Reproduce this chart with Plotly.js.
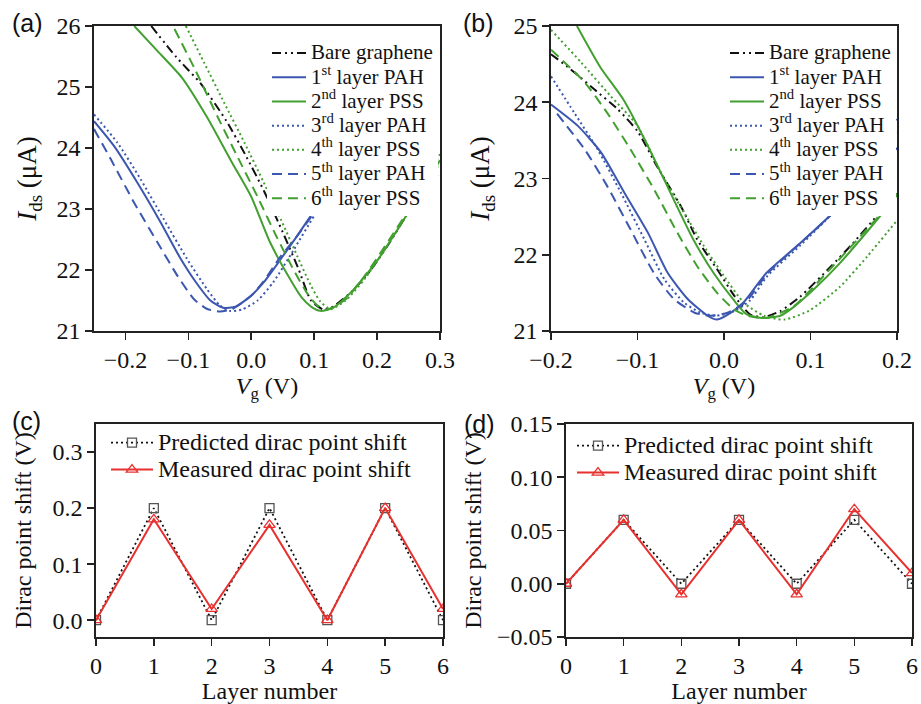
<!DOCTYPE html>
<html>
<head>
<meta charset="utf-8">
<script src="https://cdn.plot.ly/plotly-3.0.1.min.js"></script>
<style>html,body{margin:0;padding:0;background:#fff;}#chart{width:921px;height:704px;}</style>
</head>
<body>
<div id="chart"></div>
<script>
// ---------- Panel (a) data ----------
const vgA_bare = [-0.159, -0.12, -0.08, -0.04, -0.01, 0.02, 0.05, 0.075, 0.095, 0.115, 0.13, 0.16, 0.19, 0.22, 0.25, 0.275, 0.3];
const idsA_bare = [26.0, 25.5, 25.05, 24.45, 23.9, 23.3, 22.62, 22.02, 21.5, 21.35, 21.4, 21.65, 22.0, 22.45, 22.95, 23.3, 23.6];
const vgA_pah1 = [-0.25, -0.218, -0.181, -0.144, -0.112, -0.086, -0.065, -0.045, -0.025, 0.0, 0.02, 0.047, 0.073, 0.1, 0.13, 0.16];
const idsA_pah1 = [24.44, 24.03, 23.43, 22.78, 22.18, 21.77, 21.5, 21.38, 21.4, 21.58, 21.8, 22.18, 22.56, 22.97, 23.4, 23.85];
const vgA_pss2 = [-0.186, -0.15, -0.11, -0.07, -0.03, 0.0, 0.03, 0.06, 0.08, 0.095, 0.11, 0.13, 0.16, 0.2, 0.25, 0.3];
const idsA_pss2 = [26.0, 25.6, 25.15, 24.5, 23.75, 23.2, 22.45, 21.88, 21.55, 21.4, 21.33, 21.38, 21.65, 22.15, 22.95, 23.8];
const vgA_pah3 = [-0.25, -0.213, -0.176, -0.139, -0.102, -0.07, -0.05, -0.035, -0.015, 0.01, 0.035, 0.068, 0.1, 0.13, 0.16];
const idsA_pah3 = [24.55, 24.09, 23.49, 22.83, 22.18, 21.68, 21.42, 21.33, 21.35, 21.5, 21.8, 22.34, 22.89, 23.35, 23.8];
const vgA_pss4 = [-0.104, -0.075, -0.043, -0.011, 0.02, 0.047, 0.073, 0.095, 0.11, 0.126, 0.15, 0.18, 0.21, 0.25, 0.3];
const idsA_pss4 = [26.0, 25.4, 24.74, 24.09, 23.43, 22.83, 22.23, 21.74, 21.48, 21.36, 21.5, 21.85, 22.3, 22.95, 23.9];
const vgA_pah5 = [-0.25, -0.223, -0.186, -0.149, -0.117, -0.091, -0.07, -0.05, -0.03, 0.0, 0.02, 0.045, 0.073, 0.1, 0.13, 0.16];
const idsA_pah5 = [24.31, 23.81, 23.10, 22.45, 21.90, 21.52, 21.36, 21.32, 21.36, 21.58, 21.82, 22.2, 22.56, 22.94, 23.4, 23.85];
const vgA_pss6 = [-0.122, -0.09, -0.053, -0.024, 0.01, 0.04, 0.07, 0.09, 0.105, 0.12, 0.15, 0.18, 0.21, 0.25, 0.3];
const idsA_pss6 = [25.95, 25.3, 24.5, 23.9, 23.2, 22.55, 21.95, 21.6, 21.42, 21.35, 21.52, 21.9, 22.35, 22.98, 23.75];

// ---------- Panel (b) data ----------
const vgB_bare = [-0.2, -0.177, -0.15, -0.123, -0.1, -0.077, -0.05, -0.031, -0.008, 0.012, 0.03, 0.045, 0.065, 0.088, 0.123, 0.149, 0.18, 0.2];
const idsB_bare = [24.63, 24.43, 24.17, 23.91, 23.62, 23.15, 22.64, 22.2, 21.81, 21.46, 21.22, 21.18, 21.26, 21.45, 21.84, 22.15, 22.55, 22.8];
const vgB_pah1 = [-0.2, -0.169, -0.142, -0.115, -0.088, -0.065, -0.042, -0.019, -0.008, 0.008, 0.023, 0.049, 0.088, 0.126, 0.16, 0.2];
const idsB_pah1 = [23.97, 23.69, 23.34, 22.81, 22.29, 21.76, 21.42, 21.20, 21.15, 21.24, 21.38, 21.76, 22.15, 22.55, 22.95, 23.4];
const vgB_pss2 = [-0.17, -0.143, -0.116, -0.089, -0.058, -0.035, -0.012, 0.011, 0.026, 0.045, 0.065, 0.08, 0.107, 0.134, 0.157, 0.18, 0.2];
const idsB_pss2 = [25.0, 24.46, 24.03, 23.45, 22.72, 22.19, 21.76, 21.41, 21.22, 21.17, 21.2, 21.31, 21.58, 21.89, 22.19, 22.5, 22.78];
const vgB_pah3 = [-0.2, -0.173, -0.146, -0.119, -0.092, -0.069, -0.046, -0.027, -0.01, 0.01, 0.03, 0.05, 0.088, 0.126, 0.16, 0.2];
const idsB_pah3 = [24.34, 23.86, 23.38, 22.81, 22.2, 21.68, 21.37, 21.24, 21.2, 21.25, 21.4, 21.72, 22.12, 22.55, 23.0, 23.6];
const vgB_pss4 = [-0.2, -0.165, -0.131, -0.1, -0.073, -0.046, -0.023, 0.0, 0.023, 0.046, 0.07, 0.099, 0.134, 0.165, 0.2];
const idsB_pss4 = [24.95, 24.52, 24.08, 23.69, 23.08, 22.55, 22.11, 21.72, 21.37, 21.2, 21.15, 21.27, 21.58, 21.97, 22.45];
const vgB_pah5 = [-0.193, -0.161, -0.135, -0.108, -0.081, -0.058, -0.034, -0.015, 0.004, 0.025, 0.05, 0.088, 0.126, 0.16, 0.2];
const idsB_pah5 = [23.85, 23.38, 22.90, 22.33, 21.76, 21.42, 21.24, 21.2, 21.24, 21.38, 21.75, 22.15, 22.55, 23.05, 23.8];
const vgB_pss6 = [-0.2, -0.161, -0.135, -0.108, -0.081, -0.054, -0.031, -0.008, 0.012, 0.027, 0.048, 0.08, 0.12, 0.16, 0.19, 0.2];
const idsB_pss6 = [24.69, 24.26, 23.86, 23.38, 22.86, 22.29, 21.85, 21.5, 21.28, 21.2, 21.17, 21.32, 21.78, 22.27, 22.65, 22.8];

// ---------- Panels (c), (d) data ----------
const layers = [0, 1, 2, 3, 4, 5, 6];
const predC = [0, 0.2, 0, 0.2, 0, 0.2, 0];
const measC = [0, 0.18, 0.02, 0.17, 0, 0.2, 0.02];
const predD = [0, 0.06, 0, 0.06, 0, 0.06, 0];
const measD = [0, 0.06, -0.01, 0.06, -0.01, 0.07, 0.01];

const seriesNames = ['Bare graphene', '1<sup>st</sup> layer PAH', '2<sup>nd</sup> layer PSS', '3<sup>rd</sup> layer PAH',
                     '4<sup>th</sup> layer PSS', '5<sup>th</sup> layer PAH', '6<sup>th</sup> layer PSS'];
const shiftNames = ['Predicted dirac point shift', 'Measured dirac point shift'];

const big = (t, px) => '<span style="font-size:' + px + 'px">' + t + '</span>';

const BLUE = '#3b57b0', GREEN = '#42a030', BLACK = '#111111', RED = '#e8312f';
const DASHDOT = '9px,4px,2px,4px,2px,4px', DOT = '2px,3px', DASH = '10px,6px';
const styles = [
  {color: BLACK, dash: DASHDOT}, {color: BLUE, dash: 'solid'}, {color: GREEN, dash: 'solid'},
  {color: BLUE, dash: DOT}, {color: GREEN, dash: DOT}, {color: BLUE, dash: DASH}, {color: GREEN, dash: DASH}
];

const dataA = [[vgA_bare, idsA_bare], [vgA_pah1, idsA_pah1], [vgA_pss2, idsA_pss2], [vgA_pah3, idsA_pah3],
               [vgA_pss4, idsA_pss4], [vgA_pah5, idsA_pah5], [vgA_pss6, idsA_pss6]];
const dataB = [[vgB_bare, idsB_bare], [vgB_pah1, idsB_pah1], [vgB_pss2, idsB_pss2], [vgB_pah3, idsB_pah3],
               [vgB_pss4, idsB_pss4], [vgB_pah5, idsB_pah5], [vgB_pss6, idsB_pss6]];

const traces = [];
dataA.forEach((d, i) => traces.push({
  x: d[0], y: d[1], xaxis: 'x', yaxis: 'y', mode: 'lines', name: big(seriesNames[i], 21), legend: 'legend',
  line: {color: styles[i].color, dash: styles[i].dash, width: 2, shape: 'spline', smoothing: 0.6}
}));
dataB.forEach((d, i) => traces.push({
  x: d[0], y: d[1], xaxis: 'x2', yaxis: 'y2', mode: 'lines', name: big(seriesNames[i], 21), legend: 'legend2',
  line: {color: styles[i].color, dash: styles[i].dash, width: 2, shape: 'spline', smoothing: 0.6}
}));
[[predC, measC, 'x3', 'y3', 'legend3'], [predD, measD, 'x4', 'y4', 'legend4']].forEach(p => {
  traces.push({x: layers, y: p[0], xaxis: p[2], yaxis: p[3], legend: p[4], mode: 'lines+markers',
    name: big(shiftNames[0], 24), line: {color: BLACK, dash: '2px,3px', width: 1.8},
    marker: {symbol: 'square-open', size: 9, color: '#555', line: {width: 1.3}}});
  traces.push({x: layers, y: p[1], xaxis: p[2], yaxis: p[3], legend: p[4], mode: 'lines+markers',
    name: big(shiftNames[1], 24), line: {color: RED, width: 2},
    marker: {symbol: 'triangle-up-open', size: 10, color: RED, line: {width: 1.3}}});
});

const W = 921, H = 704;
const SERIF = 'Liberation Serif, Times New Roman, serif';
const tickFont = {family: SERIF, size: 24, color: '#111'};
const titleFont = {family: SERIF, size: 24, color: '#111'};
const yTitleFontTop = {family: SERIF, size: 27, color: '#111'};
const yTitleFontBot = {family: SERIF, size: 24, color: '#111'};
function ax(domainPx, extra) {
  return Object.assign({
    domain: domainPx, showline: true, mirror: true, linecolor: '#222', linewidth: 1.6,
    ticks: 'outside', ticklen: 7, tickwidth: 1.6, tickcolor: '#222', showgrid: false, zeroline: false,
    tickfont: tickFont, automargin: false
  }, extra);
}
const xd = (a, b) => [a / W, b / W];
const yd = (top, bot) => [1 - bot / H, 1 - top / H];

const layout = {
  width: W, height: H, margin: {l: 0, r: 0, t: 0, b: 0},
  paper_bgcolor: '#fff', plot_bgcolor: '#fff', font: {family: SERIF, color: '#111'},
  xaxis: ax(xd(94, 440), {anchor: 'y', range: [-0.25, 0.3], tick0: 0, dtick: 0.1, tickformat: '.1f',
    title: {text: '<i>V</i><sub>g</sub> (V)', font: titleFont, standoff: 2}}),
  yaxis: ax(yd(26, 331), {anchor: 'x', range: [21, 26], dtick: 1,
    title: {text: '<i>I</i><sub>ds</sub> (μA)', font: yTitleFontTop, standoff: 12}}),
  xaxis2: ax(xd(551, 897), {anchor: 'y2', range: [-0.2, 0.2], tick0: 0, dtick: 0.1, tickformat: '.1f',
    title: {text: '<i>V</i><sub>g</sub> (V)', font: titleFont, standoff: 2}}),
  yaxis2: ax(yd(26, 331), {anchor: 'x2', range: [21, 25], dtick: 1,
    title: {text: '<i>I</i><sub>ds</sub> (μA)', font: yTitleFontTop, standoff: 16}}),
  xaxis3: ax(xd(96, 443), {anchor: 'y3', range: [0, 6], dtick: 1,
    title: {text: 'Layer number', font: titleFont, standoff: 0}}),
  yaxis3: ax(yd(424, 637), {anchor: 'x3', range: [-0.03, 0.35], tick0: 0, dtick: 0.1, tickformat: '.1f',
    title: {text: 'Dirac point shift (V)', font: yTitleFontBot, standoff: 14}}),
  xaxis4: ax(xd(566, 912), {anchor: 'y4', range: [0, 6], dtick: 1,
    title: {text: 'Layer number', font: titleFont, standoff: 0}}),
  yaxis4: ax(yd(424, 637), {anchor: 'x4', range: [-0.05, 0.15], tick0: 0, dtick: 0.05, tickformat: '.2f',
    title: {text: 'Dirac point shift (V)', font: yTitleFontBot, standoff: 8}}),
  legend: {x: 438 / W, xanchor: 'right', y: 1 - 36 / H, yanchor: 'top', bgcolor: '#fff', borderwidth: 0,
    font: {family: SERIF, size: 16.3, color: '#111'}, tracegroupgap: 0, itemwidth: 34},
  legend2: {x: 896 / W, xanchor: 'right', y: 1 - 36 / H, yanchor: 'top', bgcolor: '#fff', borderwidth: 0,
    font: {family: SERIF, size: 16.3, color: '#111'}, tracegroupgap: 0, itemwidth: 34},
  legend3: {x: 106 / W, xanchor: 'left', y: 1 - 424 / H, yanchor: 'top', bgcolor: 'rgba(0,0,0,0)', borderwidth: 0,
    font: {family: SERIF, size: 18.5, color: '#111'}, itemwidth: 42},
  legend4: {x: 572 / W, xanchor: 'left', y: 1 - 427 / H, yanchor: 'top', bgcolor: 'rgba(0,0,0,0)', borderwidth: 0,
    font: {family: SERIF, size: 18.5, color: '#111'}, itemwidth: 42},
  annotations: [
    {text: '(a)', x: 10 / W, y: 1 - 23 / H, xref: 'paper', yref: 'paper', xanchor: 'left', yanchor: 'middle', showarrow: false,
      font: {family: 'Liberation Sans, Arial, sans-serif', size: 25, color: '#111'}},
    {text: '(b)', x: 461 / W, y: 1 - 23 / H, xref: 'paper', yref: 'paper', xanchor: 'left', yanchor: 'middle', showarrow: false,
      font: {family: 'Liberation Sans, Arial, sans-serif', size: 25, color: '#111'}},
    {text: '(c)', x: 10 / W, y: 1 - 421 / H, xref: 'paper', yref: 'paper', xanchor: 'left', yanchor: 'middle', showarrow: false,
      font: {family: 'Liberation Sans, Arial, sans-serif', size: 25, color: '#111'}},
    {text: '(d)', x: 462 / W, y: 1 - 424 / H, xref: 'paper', yref: 'paper', xanchor: 'left', yanchor: 'middle', showarrow: false,
      font: {family: 'Liberation Sans, Arial, sans-serif', size: 25, color: '#111'}}
  ]
};

Plotly.newPlot('chart', traces, layout, {displayModeBar: false, staticPlot: true});
</script>
</body>
</html>
